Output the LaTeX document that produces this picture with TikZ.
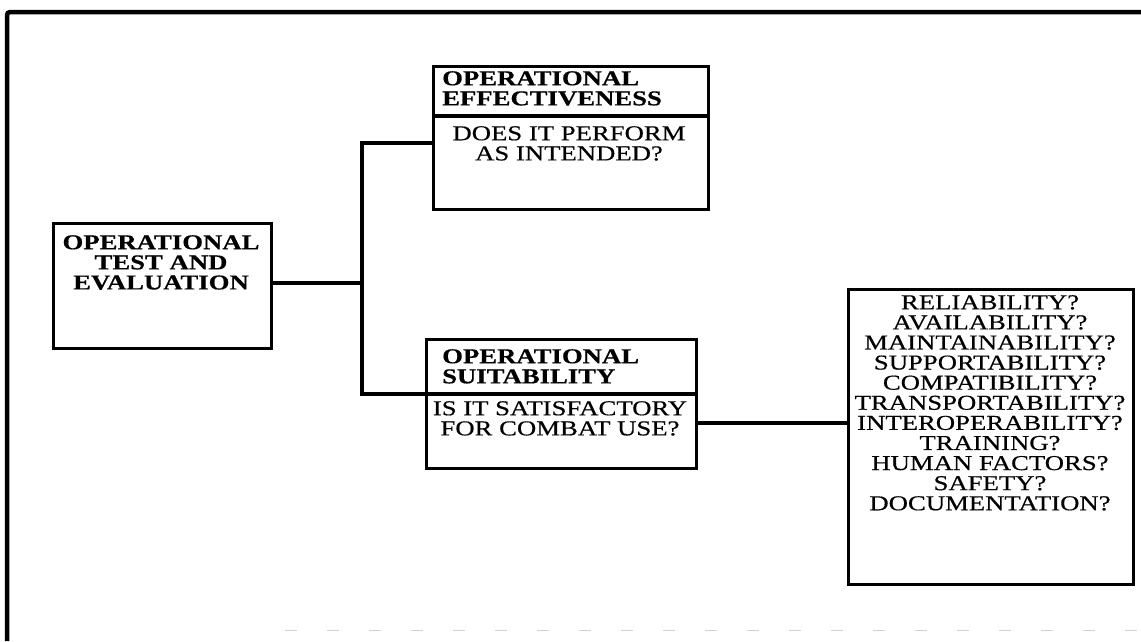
\documentclass[tikz,border=0pt]{standalone}
\usepackage{fontspec}
\setmainfont[FakeStretch=1.26, FakeBold=0.5]{Liberation Serif}
\begin{document}
\begin{tikzpicture}[x=1pt,y=-1pt,
  box/.style={draw, line width=3.2pt, inner sep=0pt, anchor=north west},
  wire/.style={line width=3.2pt},
  label/.style={inner sep=0pt, font=\fontsize{21.2}{20.1}\selectfont},
  head/.style={label, font=\fontsize{21.2}{20.1}\selectfont\bfseries}]
\useasboundingbox (0,0) rectangle (1141,641);
% outer frame (top and left edges)
\draw[line width=4.5pt, rounded corners=3pt] (1141,12) -- (7,12) -- (7,641);
\draw[gray!35, line width=1pt, dash pattern=on 12pt off 30pt] (285,630) -- (1141,630);

% boxes
\node[box, minimum width=275pt, minimum height=143pt] (eff) at (432,65) {};
\node[box, minimum width=218pt, minimum height=125pt] (ote) at (52,222) {};
\node[box, minimum width=270pt, minimum height=129pt] (suit) at (425,338) {};
\node[box, minimum width=285pt, minimum height=295pt] (qs) at (847,288) {};

% header separators
\draw[wire] (eff.west |- 0,116) -- (eff.east |- 0,116);
\draw[wire] (suit.west |- 0,394) -- (suit.east |- 0,394);

% texts
\node[head, anchor=north, align=center] (oteT) at (161,235) {OPERATIONAL\\TEST AND\\EVALUATION};
\node[head, anchor=north west, align=left] (effH) at (442,71) {OPERATIONAL\\EFFECTIVENESS};
\node[label, anchor=north, align=center] (effB) at (569,126) {DOES IT PERFORM\\AS INTENDED?};
\node[head, anchor=north west, align=left] (suitH) at (442,349) {OPERATIONAL\\SUITABILITY};
\node[label, anchor=north, align=center] (suitB) at (560,401) {IS IT SATISFACTORY\\FOR COMBAT USE?};
\node[label, anchor=north, align=center] (qsT) at (990,295) {RELIABILITY?\\AVAILABILITY?\\MAINTAINABILITY?\\SUPPORTABILITY?\\COMPATIBILITY?\\TRANSPORTABILITY?\\INTEROPERABILITY?\\TRAINING?\\HUMAN FACTORS?\\SAFETY?\\DOCUMENTATION?};

% connectors
\coordinate (trunk) at (362,283);
\draw[wire] (ote.east |- trunk) -- (trunk);
\draw[wire] (eff.west |- 0,143) -| (trunk) |- (suit.west |- 0,394);
\draw[wire] (suit.east |- 0,423) -- (qs.west |- 0,423);
\end{tikzpicture}
\end{document}
